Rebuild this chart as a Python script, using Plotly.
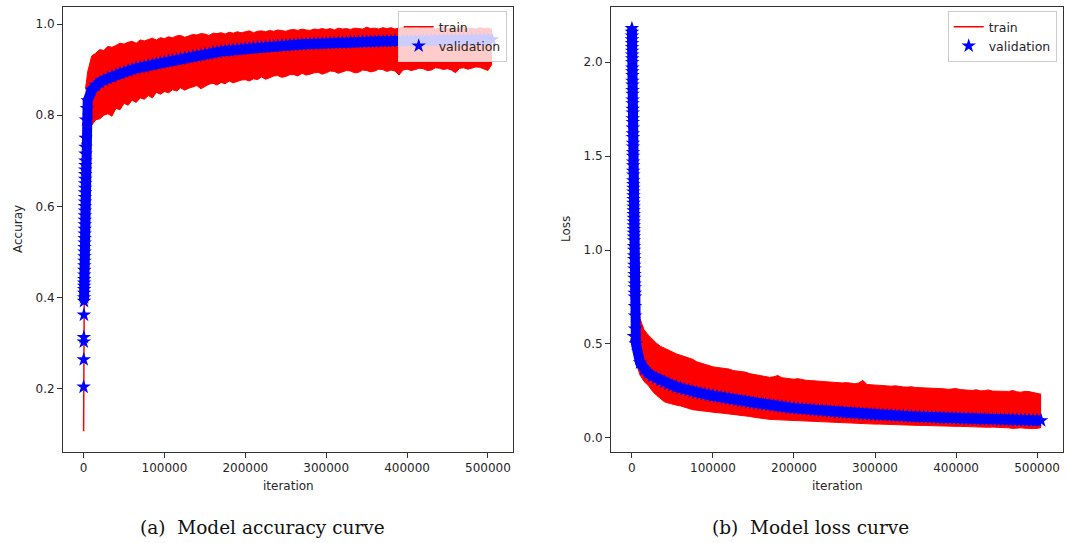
import plotly.graph_objects as go

W, H = 1067, 543

# ---------------- tick values / labels ----------------
iter_ticks = [0, 100000, 200000, 300000, 400000, 500000]
iter_labels = ["0", "100000", "200000", "300000", "400000", "500000"]
acc_ticks = [0.2, 0.4, 0.6, 0.8, 1.0]
acc_labels = ["0.2", "0.4", "0.6", "0.8", "1.0"]
loss_ticks = [0.0, 0.5, 1.0, 1.5, 2.0]
loss_labels = ["0.0", "0.5", "1.0", "1.5", "2.0"]

# iterations (in thousands) at which the train band / validation are read
iters_k = [2.5, 5, 10, 15, 20, 25, 30, 35, 40, 45, 50, 55, 60, 65, 70, 75, 80, 85, 90, 95,
           100, 105, 110, 115, 120, 125, 130, 135, 140, 145, 150, 155, 160, 165, 170, 175,
           180, 185, 190, 195, 200, 205, 210, 215, 220, 225, 230, 235, 240, 245, 250, 255,
           260, 265, 270, 275, 280, 285, 290, 295, 300, 305, 310, 315, 320, 325, 330, 335,
           340, 345, 350, 355, 360, 365, 370, 375, 380, 385, 390, 395, 400, 405, 410, 415,
           420, 425, 430, 435, 440, 445, 450, 455, 460, 465, 470, 475, 480, 485, 490, 495,
           500, 505]

# ---------------- accuracy: train ----------------
acc_train_start_x = [0, 300, 600, 1000, 1500, 2000, 2500]
acc_train_start_y = [0.107, 0.30, 0.45, 0.60, 0.70, 0.77, 0.82]

acc_train_upper = [0.860, 0.895, 0.930, 0.936, 0.944, 0.942, 0.951, 0.949, 0.953, 0.958, 0.956,
                   0.960, 0.962, 0.958, 0.965, 0.963, 0.966, 0.969, 0.965, 0.970, 0.968,
                   0.972, 0.970, 0.974, 0.975, 0.971, 0.974, 0.977, 0.976, 0.979, 0.978,
                   0.975, 0.980, 0.979, 0.981, 0.978, 0.982, 0.980, 0.983, 0.981, 0.983,
                   0.985, 0.981, 0.984, 0.985, 0.983, 0.986, 0.984, 0.987, 0.985, 0.984,
                   0.987, 0.988, 0.986, 0.989, 0.987, 0.986, 0.989, 0.988, 0.990, 0.988,
                   0.990, 0.987, 0.991, 0.989, 0.990, 0.988, 0.991, 0.990, 0.989, 0.993,
                   0.990, 0.991, 0.989, 0.992, 0.990, 0.992, 0.989, 0.991, 0.993, 0.990,
                   0.992, 0.990, 0.991, 0.993, 0.990, 0.992, 0.989, 0.991, 0.993, 0.990,
                   0.992, 0.989, 0.991, 0.993, 0.990, 0.991, 0.989, 0.992, 0.990, 0.991,
                   0.988]

acc_train_lower = [0.800, 0.775, 0.778, 0.790, 0.792, 0.800, 0.803, 0.798, 0.815, 0.812, 0.826,
                   0.822, 0.833, 0.828, 0.838, 0.835, 0.843, 0.838, 0.850, 0.846, 0.852,
                   0.849, 0.856, 0.853, 0.860, 0.855, 0.859, 0.862, 0.865, 0.858, 0.863,
                   0.868, 0.870, 0.866, 0.872, 0.869, 0.875, 0.871, 0.874, 0.877, 0.878,
                   0.875, 0.880, 0.878, 0.884, 0.879, 0.882, 0.886, 0.887, 0.883, 0.885,
                   0.889, 0.889, 0.886, 0.892, 0.888, 0.890, 0.893, 0.894, 0.890, 0.893,
                   0.897, 0.896, 0.892, 0.895, 0.898, 0.897, 0.893, 0.894, 0.899, 0.898,
                   0.895, 0.897, 0.901, 0.900, 0.896, 0.899, 0.897, 0.888, 0.899, 0.901,
                   0.898, 0.900, 0.903, 0.902, 0.898, 0.899, 0.904, 0.903, 0.900, 0.902,
                   0.899, 0.893, 0.903, 0.904, 0.901, 0.903, 0.906, 0.905, 0.901, 0.898,
                   0.912]

# ---------------- accuracy: validation ----------------
# isolated first validation points, then the dense column near iteration 0
acc_val_first_x = [0, 100, 200, 300, 400]
acc_val_first_y = [0.204, 0.264, 0.303, 0.313, 0.362]
acc_val_early_x = [500, 550, 600, 650, 700, 750, 800, 850, 900, 950,
                   1000, 1050, 1100, 1150, 1200, 1250, 1300, 1350, 1400, 1450,
                   1500, 1550, 1600, 1650, 1700, 1750, 1800, 1850, 1900, 1950,
                   2000, 2100, 2200, 2300, 2400, 3000, 4000]
acc_val_early_y = [0.392, 0.400, 0.410, 0.418, 0.425, 0.432, 0.440, 0.450, 0.460, 0.470,
                   0.480, 0.490, 0.500, 0.510, 0.520, 0.530, 0.540, 0.550, 0.560, 0.570,
                   0.580, 0.590, 0.600, 0.610, 0.620, 0.630, 0.640, 0.650, 0.660, 0.670,
                   0.680, 0.690, 0.700, 0.715, 0.730, 0.790, 0.815]
acc_val = [0.750, 0.832, 0.855, 0.866, 0.872, 0.877, 0.881, 0.885, 0.889, 0.892, 0.895,
           0.898, 0.900, 0.903, 0.905, 0.907, 0.909, 0.911, 0.913, 0.915, 0.917,
           0.919, 0.920, 0.922, 0.924, 0.926, 0.927, 0.929, 0.930, 0.932, 0.934,
           0.935, 0.937, 0.938, 0.940, 0.941, 0.942, 0.943, 0.944, 0.945, 0.946,
           0.947, 0.948, 0.949, 0.949, 0.950, 0.951, 0.951, 0.952, 0.953, 0.953,
           0.954, 0.954, 0.955, 0.955, 0.956, 0.956, 0.957, 0.957, 0.957, 0.958,
           0.958, 0.958, 0.959, 0.959, 0.959, 0.960, 0.960, 0.960, 0.961, 0.961,
           0.961, 0.961, 0.962, 0.962, 0.962, 0.962, 0.963, 0.963, 0.963, 0.963,
           0.963, 0.963, 0.964, 0.964, 0.964, 0.964, 0.964, 0.964, 0.965, 0.965,
           0.965, 0.965, 0.965, 0.965, 0.966, 0.966, 0.966, 0.966, 0.966, 0.966,
           0.966]

# ---------------- loss: train ----------------
loss_train_start_x = [0, 500, 1000, 1500, 2000, 2500]
loss_train_start_y = [2.19, 1.90, 1.50, 1.10, 0.85, 0.62]

loss_train_upper = [0.600, 0.640, 0.635, 0.575, 0.548, 0.525, 0.505, 0.488, 0.478, 0.465, 0.455,
                    0.447, 0.440, 0.432, 0.428, 0.418, 0.405, 0.398, 0.392, 0.383, 0.378,
                    0.375, 0.372, 0.368, 0.366, 0.358, 0.356, 0.352, 0.350, 0.342, 0.338,
                    0.333, 0.330, 0.326, 0.322, 0.325, 0.332, 0.320, 0.318, 0.314, 0.312,
                    0.315, 0.310, 0.306, 0.305, 0.303, 0.300, 0.302, 0.298, 0.296, 0.295,
                    0.293, 0.292, 0.294, 0.290, 0.288, 0.292, 0.306, 0.284, 0.282, 0.280,
                    0.281, 0.278, 0.276, 0.275, 0.277, 0.272, 0.271, 0.270, 0.272, 0.268,
                    0.267, 0.266, 0.268, 0.265, 0.263, 0.263, 0.261, 0.258, 0.260, 0.262,
                    0.257, 0.255, 0.254, 0.252, 0.256, 0.250, 0.251, 0.255, 0.249, 0.248,
                    0.250, 0.245, 0.247, 0.252, 0.245, 0.243, 0.247, 0.246, 0.242, 0.240,
                    0.232]

loss_train_lower = [0.550, 0.400, 0.335, 0.300, 0.280, 0.250, 0.228, 0.208, 0.192, 0.185, 0.178,
                    0.174, 0.170, 0.162, 0.155, 0.150, 0.147, 0.144, 0.140, 0.138, 0.136,
                    0.134, 0.132, 0.130, 0.128, 0.125, 0.123, 0.121, 0.120, 0.114, 0.110,
                    0.106, 0.103, 0.100, 0.098, 0.097, 0.096, 0.094, 0.092, 0.091, 0.090,
                    0.090, 0.089, 0.087, 0.086, 0.086, 0.085, 0.084, 0.083, 0.083, 0.082,
                    0.081, 0.080, 0.080, 0.079, 0.077, 0.076, 0.075, 0.074, 0.074, 0.073,
                    0.073, 0.072, 0.071, 0.070, 0.070, 0.069, 0.068, 0.068, 0.067, 0.067,
                    0.066, 0.066, 0.065, 0.065, 0.064, 0.064, 0.063, 0.062, 0.062, 0.061,
                    0.061, 0.060, 0.059, 0.058, 0.059, 0.059, 0.057, 0.056, 0.057, 0.057,
                    0.056, 0.055, 0.053, 0.050, 0.052, 0.053, 0.051, 0.048, 0.049, 0.050,
                    0.055]

# ---------------- loss: validation ----------------
loss_val_first_x = []
loss_val_first_y = []
loss_val_early_x = [0, 50, 100, 150, 200, 250, 300, 350, 400, 450,
                    500, 550, 600, 650, 700, 750, 800, 850, 900, 950,
                    1000, 1050, 1100, 1150, 1200, 1250, 1300, 1350, 1400, 1450,
                    1500, 1550, 1600, 1650, 1700, 1750, 1800, 1850, 1900, 1950,
                    2000, 2050, 2100, 2150, 2200, 2250, 2300, 2350, 2400, 2450,
                    2500, 2600, 2700, 2800, 2900, 3000, 3100, 3200, 3300, 3400,
                    3500, 3600, 3700, 3800, 3900, 4000]
loss_val_early_y = [2.18, 2.16, 2.14, 2.12, 2.10, 2.08, 2.06, 2.04, 2.02, 2.00,
                    1.97, 1.95, 1.93, 1.90, 1.88, 1.85, 1.83, 1.80, 1.78, 1.75,
                    1.73, 1.70, 1.68, 1.65, 1.62, 1.60, 1.57, 1.55, 1.52, 1.50,
                    1.47, 1.45, 1.42, 1.40, 1.37, 1.35, 1.33, 1.31, 1.29, 1.27,
                    1.25, 1.23, 1.21, 1.19, 1.17, 1.15, 1.13, 1.11, 1.09, 1.07,
                    1.05, 1.02, 1.00, 0.97, 0.95, 0.92, 0.90, 0.87, 0.85, 0.82,
                    0.80, 0.77, 0.75, 0.70, 0.65, 0.58]
loss_val = [0.54, 0.50, 0.40, 0.365, 0.345, 0.330, 0.318, 0.306, 0.296, 0.287, 0.279,
            0.272, 0.265, 0.258, 0.252, 0.246, 0.241, 0.236, 0.232, 0.228, 0.224,
            0.220, 0.216, 0.212, 0.208, 0.204, 0.200, 0.196, 0.193, 0.189, 0.186,
            0.183, 0.180, 0.177, 0.174, 0.171, 0.168, 0.165, 0.163, 0.160, 0.158,
            0.156, 0.154, 0.152, 0.150, 0.148, 0.146, 0.144, 0.142, 0.140, 0.138,
            0.136, 0.135, 0.133, 0.132, 0.130, 0.129, 0.127, 0.126, 0.124, 0.123,
            0.122, 0.121, 0.120, 0.119, 0.118, 0.117, 0.116, 0.115, 0.114, 0.113,
            0.112, 0.111, 0.110, 0.109, 0.108, 0.107, 0.106, 0.105, 0.105, 0.104,
            0.103, 0.102, 0.102, 0.101, 0.100, 0.100, 0.099, 0.099, 0.098, 0.098,
            0.097, 0.097, 0.096, 0.096, 0.095, 0.095, 0.094, 0.094, 0.093, 0.093,
            0.092]

# ---------------- styling ----------------
RED = "#ff0000"
BLUE = "#0000ff"
TXT = "#262626"
AX = "#333333"
FONT = "DejaVu Sans"

iters = [k * 1000 for k in iters_k]

fig = go.Figure()

def add_panel(xa, ya, legend, sx, sy, uy, ly, vfx, vfy, vex, vey, vy):
    # noisy train curve shown as its min/max envelope
    fig.add_trace(go.Scatter(x=iters, y=ly, mode="lines", line=dict(color=RED, width=1),
                             showlegend=False, xaxis=xa, yaxis=ya, hoverinfo="skip"))
    fig.add_trace(go.Scatter(x=iters, y=uy, mode="lines", line=dict(color=RED, width=1),
                             fill="tonexty", fillcolor=RED,
                             showlegend=False, xaxis=xa, yaxis=ya, hoverinfo="skip"))
    fig.add_trace(go.Scatter(x=sx, y=sy, mode="lines", line=dict(color=RED, width=1.5),
                             name="train", legend=legend, xaxis=xa, yaxis=ya))
    # densely packed validation stars: fill the gaps between them
    dense_x = vex + iters
    dense_y = vey + vy
    fig.add_trace(go.Scatter(x=dense_x, y=dense_y, mode="lines",
                             line=dict(color=BLUE, width=10), showlegend=False,
                             xaxis=xa, yaxis=ya, hoverinfo="skip"))
    fig.add_trace(go.Scatter(x=vfx + dense_x, y=vfy + dense_y, mode="markers",
                             marker=dict(symbol="star", size=11, color=BLUE,
                                         line=dict(width=0)),
                             name="validation", legend=legend, xaxis=xa, yaxis=ya))

add_panel("x", "y", "legend", acc_train_start_x, acc_train_start_y,
          acc_train_upper, acc_train_lower, acc_val_first_x, acc_val_first_y,
          acc_val_early_x, acc_val_early_y, acc_val)
add_panel("x2", "y2", "legend2", loss_train_start_x, loss_train_start_y,
          loss_train_upper, loss_train_lower, loss_val_first_x, loss_val_first_y,
          loss_val_early_x, loss_val_early_y, loss_val)

def px_x(p):
    return p / W

def px_y(p):
    return 1 - p / H

axis_common = dict(showline=True, mirror=True, linecolor=AX, linewidth=1,
                   ticks="outside", ticklen=5, tickwidth=1, tickcolor=AX,
                   showgrid=False, zeroline=False,
                   tickfont=dict(family=FONT, size=12, color=TXT))

ydom = [px_y(451.7), px_y(6.7)]

legend_common = dict(yanchor="top", xanchor="right", traceorder="normal",
                     bgcolor="rgba(255,255,255,0.8)", bordercolor="#cccccc", borderwidth=1,
                     font=dict(family=FONT, size=12.5, color=TXT), tracegroupgap=0,
                     itemwidth=30)

fig.update_layout(
    width=W, height=H,
    margin=dict(l=0, r=0, t=0, b=0),
    paper_bgcolor="white", plot_bgcolor="white",
    xaxis=dict(domain=[px_x(63), px_x(513)], range=[-25500, 531000],
               tickvals=iter_ticks, ticktext=iter_labels, anchor="y", **axis_common),
    yaxis=dict(domain=ydom, range=[0.062, 1.038],
               tickvals=acc_ticks, ticktext=acc_labels, anchor="x", **axis_common),
    xaxis2=dict(domain=[px_x(611), px_x(1063)], range=[-25800, 532000],
                tickvals=iter_ticks, ticktext=iter_labels, anchor="y2", **axis_common),
    yaxis2=dict(domain=ydom, range=[-0.074, 2.296],
                tickvals=loss_ticks, ticktext=loss_labels, anchor="x2", **axis_common),
    legend=dict(x=px_x(506.7), y=px_y(11), **legend_common),
    legend2=dict(x=px_x(1056.7), y=px_y(11), **legend_common),
)

ann = []
def label(text, x, y, size=12, angle=0, family=FONT, color=TXT):
    ann.append(dict(text=text, x=px_x(x), y=px_y(y), xref="paper", yref="paper",
                    showarrow=False, xanchor="center", yanchor="middle",
                    textangle=angle, font=dict(family=family, size=size, color=color)))

label("iteration", 288, 486)
label("iteration", 837, 486)
label("Accuray", 18, 229, angle=-90)
label("Loss", 566, 229, angle=-90)
label("(a)\u00a0 Model accuracy curve", 262, 527, size=18.5, family="DejaVu Serif", color="#111111")
label("(b)\u00a0 Model loss curve", 810, 527, size=18.5, family="DejaVu Serif", color="#111111")

fig.update_layout(annotations=ann)

fig.write_html("out.html", config={"displayModeBar": False},
               post_script="document.body.style.margin='0';document.body.style.overflow='hidden';")
